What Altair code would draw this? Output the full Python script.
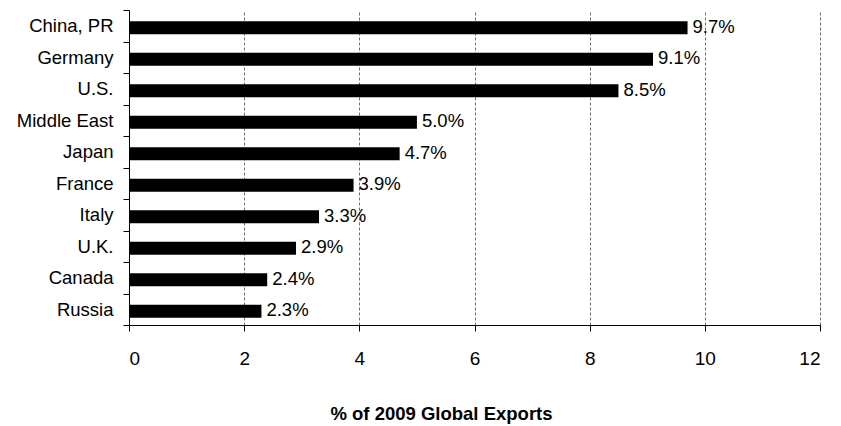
import altair as alt
import pandas as pd

# Share of 2009 global exports by country/region
countries = ["China, PR", "Germany", "U.S.", "Middle East", "Japan",
             "France", "Italy", "U.K.", "Canada", "Russia"]
shares = [9.7, 9.1, 8.5, 5.0, 4.7, 3.9, 3.3, 2.9, 2.4, 2.3]
x_ticks = [0, 2, 4, 6, 8, 10, 12]

df = pd.DataFrame({"country": countries, "share": shares})

FONT = "Liberation Sans, Arial, sans-serif"

y_enc = alt.Y(
    "country:N",
    sort=countries,
    title=None,
    scale=alt.Scale(paddingInner=0, paddingOuter=0),
    axis=alt.Axis(
        domainColor="black",
        domainWidth=1,
        tickColor="black",
        tickSize=6,
        tickBand="extent",
        labelFont=FONT,
        labelFontSize=18.5,
        labelColor="black",
        labelPadding=10,
        grid=False,
    ),
)

x_enc = alt.X(
    "share:Q",
    scale=alt.Scale(domain=[0, 12], nice=False),
    title="% of 2009 Global Exports",
    axis=alt.Axis(
        values=x_ticks,
        format="d",
        domainColor="black",
        domainWidth=1,
        tickColor="black",
        tickSize=6,
        labelFont=FONT,
        labelFontSize=19,
        labelColor="black",
        labelPadding=18,
        grid=True,
        gridColor="#6e6e6e",
        gridWidth=1,
        gridDash=[3, 2],
        titleFont=FONT,
        titleFontSize=18.5,
        titleFontWeight="bold",
        titleColor="black",
        titleX=312,
        titleY=88,
        titleAlign="center",
        titleBaseline="middle",
    ),
)

bars = alt.Chart(df).mark_bar(color="black", size=13, yOffset=2).encode(x=x_enc, y=y_enc)

# Value labels just past the end of each bar
labels = alt.Chart(df).transform_calculate(
    label="format(datum.share, '.1f') + '%'"
).mark_text(
    align="left", baseline="middle", dx=5, dy=1,
    font=FONT, fontSize=18.5, color="black",
).encode(
    x=alt.X("share:Q"),
    y=alt.Y("country:N", sort=countries),
    text="label:N",
)

chart = (
    alt.layer(bars, labels)
    .properties(
        width=691,
        height=315,
        autosize=alt.AutoSizeParams(type="none"),
        padding={"left": 129, "top": 10, "right": 21, "bottom": 101},
        background="white",
    )
    .configure_view(stroke=None)
)

chart.save("out.html", embed_options={"renderer": "svg", "actions": False})
